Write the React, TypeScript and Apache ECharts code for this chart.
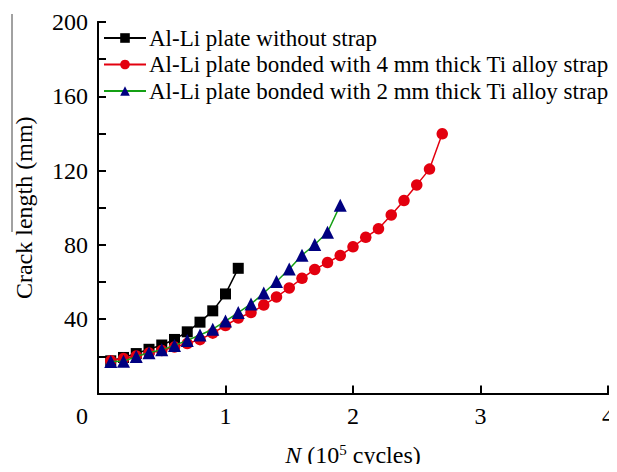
import React, { useEffect, useRef } from "react";
import * as echarts from "echarts";

const seriesNames = [
  "Al-Li plate without strap",
  "Al-Li plate bonded with 4 mm thick Ti alloy strap",
  "Al-Li plate bonded with 2 mm thick Ti alloy strap",
];

const xNoStrap = [0.1, 0.2, 0.3, 0.4, 0.5, 0.6, 0.7, 0.8, 0.9, 1.0, 1.1];
const yNoStrap = [17.6, 19.4, 21.5, 23.8, 26.1, 29.1, 33.2, 38.4, 44.5, 53.6, 67.4];

const x4mm = [0.1, 0.2, 0.3, 0.4, 0.5, 0.6, 0.7, 0.8, 0.9, 1.0, 1.1, 1.2, 1.3, 1.4, 1.5, 1.6, 1.7, 1.8, 1.9, 2.0, 2.1, 2.2, 2.3, 2.4, 2.5, 2.6, 2.7];
const y4mm = [17.6, 18.8, 20.2, 21.8, 23.2, 25.0, 26.9, 29.0, 32.5, 36.6, 40.6, 43.6, 47.6, 52.0, 56.8, 62.0, 66.8, 70.5, 74.3, 79.0, 84.1, 88.7, 96.1, 103.9, 112.3, 120.8, 139.8];

const x2mm = [0.1, 0.2, 0.3, 0.4, 0.5, 0.6, 0.7, 0.8, 0.9, 1.0, 1.1, 1.2, 1.3, 1.4, 1.5, 1.6, 1.7, 1.8, 1.9];
const y2mm = [17.2, 17.3, 19.9, 22.0, 23.5, 25.9, 28.6, 31.5, 34.6, 39.0, 43.6, 48.2, 54.1, 60.3, 67.0, 74.4, 80.2, 86.8, 101.4];

const xTicks = [0, 1, 2, 3, 4];
const yLabelValues = [40, 80, 120, 160, 200];

const FONT = "'Liberation Serif', 'Times New Roman', serif";

function pairs(xs: number[], ys: number[]) {
  return xs.map((x, i) => [x, ys[i]]);
}

export default function App() {
  const ref = useRef<HTMLDivElement>(null);
  useEffect(() => {
    if (!ref.current) return;
    const chart = echarts.init(ref.current, null, { renderer: "svg" });
    const axisLine = { show: true, lineStyle: { color: "#000", width: 2 } };
    chart.setOption({
      animation: false,
      backgroundColor: "#fff",
      textStyle: { fontFamily: FONT, color: "#000" },
      grid: { left: 98, top: 22, right: 5, bottom: 72, containLabel: false },
      graphic: [
        {
          type: "line",
          shape: { x1: 12, y1: 14, x2: 12, y2: 232 },
          style: { stroke: "#444", lineWidth: 1 },
          silent: true,
        },
      ],
      legend: {
        orient: "vertical",
        left: 103,
        top: 26,
        itemWidth: 42,
        itemHeight: 12,
        itemGap: 2.5,
        padding: 0,
        textStyle: { fontFamily: FONT, fontSize: 23, color: "#000", lineHeight: 24, padding: [0, 0, 0, -2] },
        data: seriesNames,
      },
      xAxis: [
        {
          type: "value",
          min: 0,
          max: 4,
          interval: 1,
          axisLine,
          splitLine: { show: false },
          axisTick: { show: true, inside: true, length: 8, lineStyle: { color: "#000", width: 2 } },
          axisLabel: {
            margin: 10,
            fontFamily: FONT,
            fontSize: 24,
            color: "#000",
            formatter: (v: number) => (v === 0 ? "{z|0}" : xTicks.includes(v) ? String(v) : ""),
            rich: { z: { fontFamily: FONT, fontSize: 24, color: "#000", padding: [0, 32, 0, 0] } },
            showMinLabel: true,
            showMaxLabel: true,
          },
          name: "{i|N}{n| (10}{s|5}{n| cycles)}",
          nameLocation: "middle",
          nameGap: 49,
          nameTextStyle: {
            rich: {
              i: { fontFamily: FONT, fontSize: 24, fontStyle: "italic", color: "#000" },
              n: { fontFamily: FONT, fontSize: 24, color: "#000" },
              s: { fontFamily: FONT, fontSize: 15, color: "#000", padding: [0, 0, 10, 0] },
            },
          },
        },
        {
          type: "value",
          position: "top",
          min: 0,
          max: 4,
          axisLine,
          axisTick: { show: false },
          axisLabel: { show: false },
          splitLine: { show: false },
        },
      ],
      yAxis: [
        {
          type: "value",
          min: 0,
          max: 200,
          interval: 20,
          axisLine,
          splitLine: { show: false },
          axisTick: { show: true, inside: true, length: 8, lineStyle: { color: "#000", width: 2 } },
          axisLabel: {
            margin: 10,
            fontFamily: FONT,
            fontSize: 24,
            color: "#000",
            formatter: (v: number) => (yLabelValues.includes(v) ? String(v) : ""),
          },
          name: "Crack length (mm)",
          nameLocation: "middle",
          nameGap: 62,
          nameRotate: 90,
          nameTextStyle: { fontFamily: FONT, fontSize: 24, color: "#000" },
        },
        {
          type: "value",
          position: "right",
          min: 0,
          max: 200,
          axisLine,
          axisTick: { show: false },
          axisLabel: { show: false },
          splitLine: { show: false },
        },
      ],
      series: [
        {
          name: seriesNames[0],
          type: "line",
          data: pairs(xNoStrap, yNoStrap),
          symbol: "rect",
          symbolSize: 11,
          itemStyle: { color: "#000" },
          lineStyle: { color: "#000", width: 1.5 },
          z: 2,
        },
        {
          name: seriesNames[1],
          type: "line",
          data: pairs(x4mm, y4mm),
          symbol: "circle",
          symbolSize: 11.5,
          itemStyle: { color: "#e3000f" },
          lineStyle: { color: "#e3000f", width: 1.5 },
          z: 3,
        },
        {
          name: seriesNames[2],
          type: "line",
          data: pairs(x2mm, y2mm),
          symbol: "triangle",
          symbolSize: 13,
          itemStyle: { color: "#000080" },
          lineStyle: { color: "#14a014", width: 1.5 },
          z: 4,
        },
      ],
    });
    return () => chart.dispose();
  }, []);
  return <div ref={ref} style={{ width: 617, height: 472, margin: -8 }} />;
}
